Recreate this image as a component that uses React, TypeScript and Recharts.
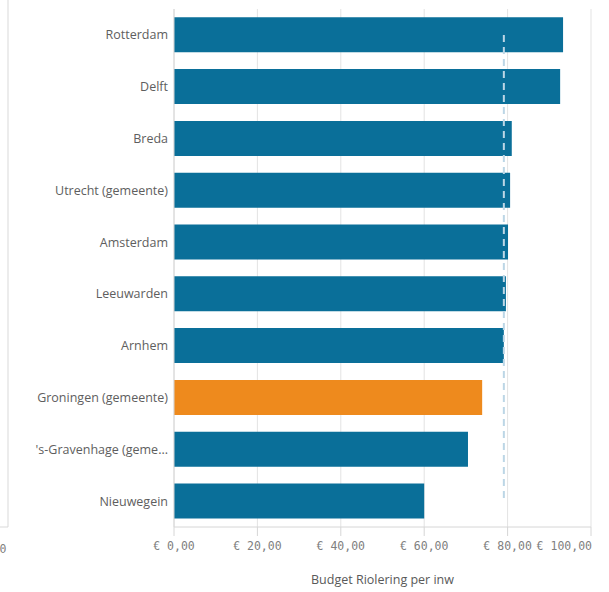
import {
  BarChart,
  Bar,
  XAxis,
  YAxis,
  CartesianGrid,
  Cell,
  ReferenceLine,
  Label,
} from "recharts";

const GEMEENTEN = [
  "Rotterdam",
  "Delft",
  "Breda",
  "Utrecht (gemeente)",
  "Amsterdam",
  "Leeuwarden",
  "Arnhem",
  "Groningen (gemeente)",
  "'s-Gravenhage (gemeente)",
  "Nieuwegein",
];

const BUDGET = [93.3, 92.6, 81.0, 80.6, 80.1, 79.6, 79.1, 73.9, 70.5, 60.0];

const HIGHLIGHT = "Groningen (gemeente)";
const GEMIDDELDE = 79.1;
const X_TICKS = [0, 20, 40, 60, 80, 100];

const BLUE = "#0a6f99";
const ORANGE = "#ee8a1d";

const data = GEMEENTEN.map((name, i) => ({ name, value: BUDGET[i] }));

const euro = (v: number) => "€ " + v.toFixed(2).replace(".", ",");
const truncate = (s: string) => (s.length > 20 ? s.slice(0, 19) + "..." : s);

// last tick label sits flush against the right edge, like the original
function EuroTick(props: any) {
  const { x, y, payload } = props;
  const last = payload.value === X_TICKS[X_TICKS.length - 1];
  return (
    <text
      x={last ? x + 1 : x}
      y={y}
      dy="0.71em"
      textAnchor={last ? "end" : "middle"}
      fill="#808080"
      fontSize={11.5}
      fontFamily="DejaVu Sans Mono"
    >
      {euro(payload.value)}
    </text>
  );
}

export default function App() {
  return (
    <div style={{ position: "absolute", left: 0, top: 0, width: 609, height: 592 }}>
      <svg
        width={609}
        height={592}
        style={{ position: "absolute", left: 0, top: 0 }}
      >
        <line x1={8} y1={0} x2={8} y2={527} stroke="#d9d9d9" />
        <line x1={0} y1={527} x2={8} y2={527} stroke="#d9d9d9" />
        <text
          x={3}
          y={553}
          textAnchor="middle"
          fill="#808080"
          fontSize={11.5}
          fontFamily="DejaVu Sans Mono"
        >
          0
        </text>
      </svg>
      <div style={{ position: "absolute", left: 0, top: 0 }}>
        <BarChart
          width={609}
          height={592}
          data={data}
          layout="vertical"
          margin={{ top: 9, right: 18, bottom: 0, left: 0 }}
          barCategoryGap="16%"
        >
          <CartesianGrid horizontal={false} stroke="#e3e3e3" />
          <XAxis
            type="number"
            domain={[0, 100]}
            ticks={X_TICKS}
            height={65}
            tickSize={9}
            tickMargin={6}
            stroke="#d6d6d6"
            tick={<EuroTick />}
            interval={0}
          >
            <Label
              value="Budget Riolering per inw"
              position="insideBottom"
              offset={8}
              fill="#595959"
              fontSize={12.5}
              fontFamily="Open Sans"
            />
          </XAxis>
          <YAxis
            type="category"
            dataKey="name"
            width={174}
            tickLine={false}
            tickSize={0}
            tickMargin={6}
            stroke="#d6d6d6"
            tickFormatter={truncate}
            tick={{ fill: "#5e5e5e", fontSize: 12.5, fontFamily: "Open Sans" }}
            interval={0}
          />
          <Bar dataKey="value" isAnimationActive={false}>
            {data.map((d) => (
              <Cell key={d.name} fill={d.name === HIGHLIGHT ? ORANGE : BLUE} />
            ))}
          </Bar>
          <ReferenceLine
            segment={[
              { x: GEMIDDELDE, y: GEMEENTEN[0] },
              { x: GEMIDDELDE, y: GEMEENTEN[GEMEENTEN.length - 1] },
            ]}
            stroke="#bcd6e6"
            strokeWidth={2}
            strokeDasharray="7 5"
          />
        </BarChart>
      </div>
    </div>
  );
}
